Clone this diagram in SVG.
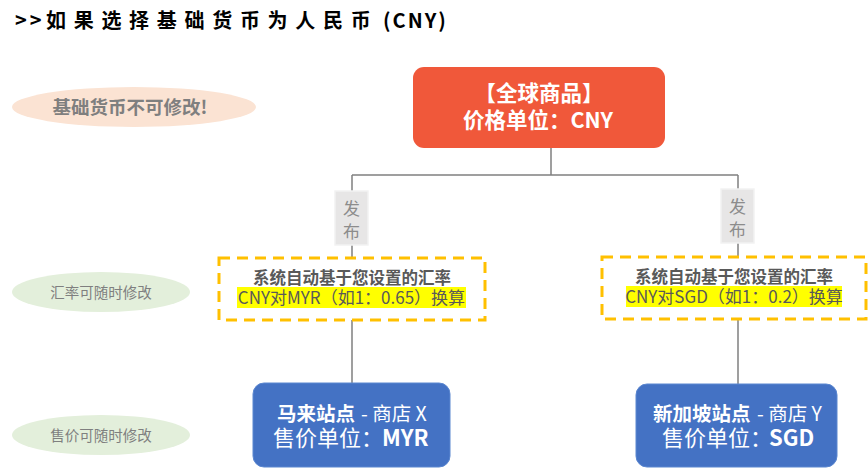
<svg xmlns="http://www.w3.org/2000/svg" width="868" height="469" viewBox="0 0 868 469">
<style>
text{font-family:"Noto Sans CJK SC","Liberation Sans",sans-serif;}
.title{font-size:20px;font-weight:bold;fill:#000;}
.side{fill:#7f7f7f;font-size:14.5px;text-anchor:middle;}
.tag{fill:#E7E6E6;stroke:#F2F2F2;stroke-width:1.5;}
.tagt{fill:#8c8c8c;font-size:17px;text-anchor:middle;}
.dash{fill:none;stroke:#FFC000;stroke-width:3;stroke-dasharray:11 7;}
.hl{fill:#FFFF00;}
.b1{fill:#595959;font-size:16.5px;font-weight:bold;text-anchor:middle;}
.b2{fill:#595959;font-size:17px;text-anchor:middle;}
.blue{fill:#4472C4;stroke:#5B87D0;stroke-width:1;}
.wt{fill:#fff;}
.mid{text-anchor:middle;}
.top{font-size:21.5px;font-weight:bold;}
.l1{font-size:19.5px;}
.l2{font-size:22px;}
.bd{font-weight:bold;}
.conn line{stroke:#7f7f7f;stroke-width:1.5;}
</style>
<g id="title">
<text class="title" x="15" y="28" letter-spacing="3">&gt;&gt;</text>
<text class="title" x="46" y="28" letter-spacing="7.7">如果选择基础货币为人民币</text>
<text class="title" x="383" y="28" letter-spacing="2">(CNY)</text>
</g>

<g id="note-base">
<ellipse cx="134" cy="107" rx="122" ry="20" fill="#FBE3D3"/>
<text class="side" x="130" y="114" style="font-size:18.5px;font-weight:bold">基础货币不可修改!</text>
</g>
<g id="note-rate">
<ellipse cx="101" cy="292" rx="89" ry="20" fill="#E3EFDB"/>
<text class="side" x="101" y="298">汇率可随时修改</text>
</g>
<g id="note-price">
<ellipse cx="101" cy="435" rx="89" ry="20" fill="#E3EFDB"/>
<text class="side" x="101" y="441">售价可随时修改</text>
</g>

<g class="conn" id="connectors">
<line x1="551" y1="148" x2="551" y2="175"/>
<line x1="352" y1="175" x2="738" y2="175"/>
<line x1="352" y1="175" x2="352" y2="191"/>
<line x1="352" y1="245" x2="352" y2="258"/>
<line x1="352" y1="320" x2="352" y2="383"/>
<line x1="738" y1="175" x2="738" y2="189"/>
<line x1="738" y1="243" x2="738" y2="257"/>
<line x1="738" y1="319" x2="738" y2="384"/>
</g>

<g id="global-product">
<rect x="413" y="67" width="252" height="81" rx="11" fill="#F0583A"/>
<text class="wt mid top" x="539" y="101">【全球商品】</text>
<text class="wt mid top" x="538" y="128">价格单位：CNY</text>
</g>

<g id="publish-left">
<rect class="tag" x="335" y="191" width="33" height="54"/>
<text class="tagt" x="351.5" y="215">发</text>
<text class="tagt" x="351.5" y="238">布</text>
</g>
<g id="publish-right">
<rect class="tag" x="721" y="189" width="33" height="54"/>
<text class="tagt" x="737.5" y="213">发</text>
<text class="tagt" x="737.5" y="236">布</text>
</g>

<g id="rate-myr">
<rect class="dash" x="219" y="258" width="266" height="62"/>
<text class="b1" x="352" y="284">系统自动基于您设置的汇率</text>
<rect class="hl" x="237" y="287" width="229" height="21"/>
<text class="b2" x="351.5" y="304">CNY对MYR（如1：0.65）换算</text>
</g>
<g id="rate-sgd">
<rect class="dash" x="602" y="257" width="264" height="62"/>
<text class="b1" x="734" y="283">系统自动基于您设置的汇率</text>
<rect class="hl" x="626" y="286" width="216" height="21"/>
<text class="b2" x="734" y="303">CNY对SGD（如1：0.2）换算</text>
</g>

<g id="store-x">
<rect class="blue" x="253" y="383" width="197" height="84" rx="11"/>
<text class="wt l1 bd" x="277" y="421">马来站点</text>
<text class="wt l1" x="361" y="421">- 商店 X</text>
<text class="wt l2" x="273" y="446">售价单位：</text>
<text class="wt l2 bd" x="382" y="446">MYR</text>
</g>
<g id="store-y">
<rect class="blue" x="636" y="384" width="201" height="83" rx="11"/>
<text class="wt l1 bd" x="653" y="421">新加坡站点</text>
<text class="wt l1" x="757" y="421">- 商店 Y</text>
<text class="wt l2" x="662" y="446">售价单位：</text>
<text class="wt l2 bd" x="769" y="446">SGD</text>
</g>
</svg>
